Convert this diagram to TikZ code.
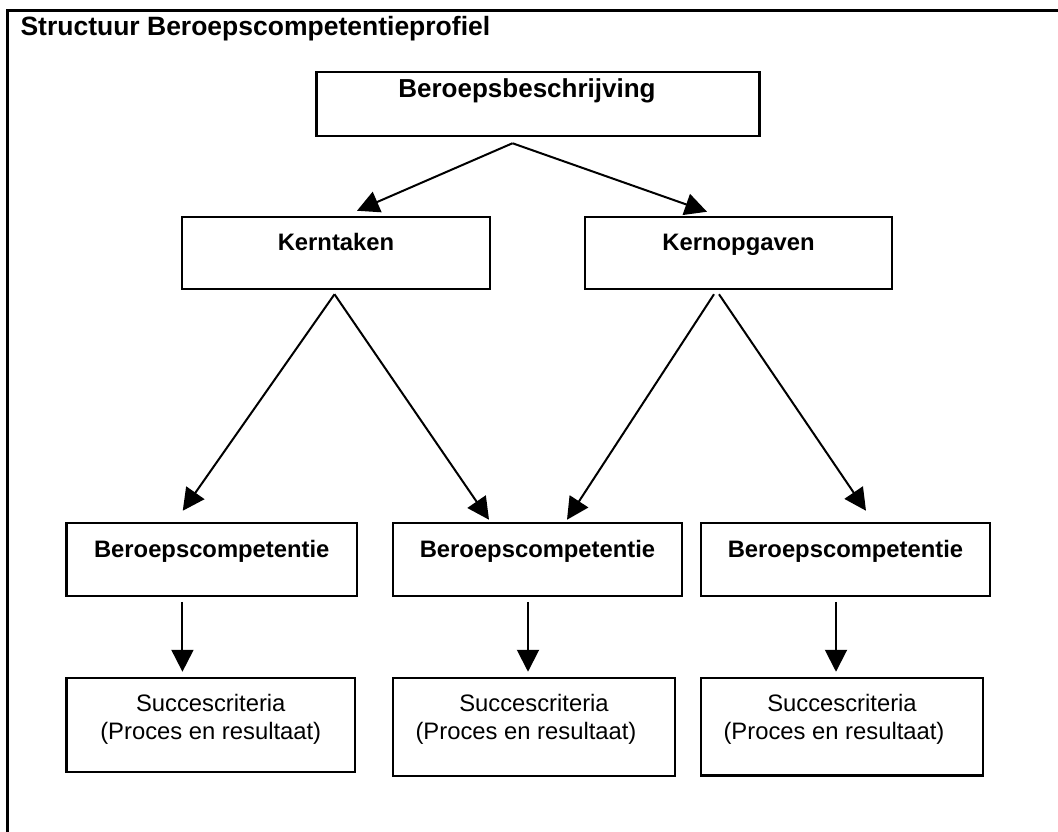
\documentclass[tikz,border=0pt]{standalone}
\usepackage{fontspec}
\setmainfont{Liberation Sans}
\usetikzlibrary{arrows.meta,positioning,calc}

\begin{document}
\begin{tikzpicture}[
    x=1pt, y=-1pt,
    box/.style={rectangle, draw, line width=2.5pt, inner sep=0pt, anchor=base, font=\fontsize{23.8}{28}\selectfont\bfseries},
    succes/.style={rectangle, draw, line width=2.5pt, inner sep=0pt, anchor=base, font=\fontsize{23.8}{28}\selectfont},
    arr/.style={-{Triangle[length=22pt, width=22pt]}, line width=2pt}
]
    \useasboundingbox (0,0) rectangle (1058,832);
    \draw[line width=3pt] (7,832) -- (7,11) -- (1058,11);
    \node[anchor=base west, font=\fontsize{26.5}{30}\selectfont\bfseries] (title) at (17,36) {Structuur Beroepscompetentieprofiel};

    \node[box, font=\fontsize{26}{30}\selectfont\bfseries, minimum width=443pt, text height=25.6pt, text depth=38.4pt] (beschrijving) at (538,97.6) {Beroepsbeschrijving\hspace*{22pt}};
    \node[box, minimum width=308pt, text height=33.5pt, text depth=38.5pt] (kerntaken) at (336,250.5) {Kerntaken};
    \node[box, minimum width=307pt, text height=33.5pt, text depth=38.5pt] (kernopgaven) at (738.5,250.5) {Kernopgaven};

    \node[box, minimum width=290.5pt, text height=34pt, text depth=39pt] (comp1) at (211.75,557) {Beroepscompetentie};
    \node[box, minimum width=289pt, text height=34pt, text depth=39pt] (comp2) at (537.5,557) {Beroepscompetentie};
    \node[box, minimum width=289pt, text height=34pt, text depth=39pt] (comp3) at (845.5,557) {Beroepscompetentie};

    \node[succes, minimum width=288.5pt, text height=33pt, text depth=61pt] (crit1) at (210.75,711) {\begin{tabular}[t]{@{}c@{}}Succescriteria\\(Proces en resultaat)\end{tabular}};
    \node[succes, minimum width=282pt, text height=33pt, text depth=65pt] (crit2) at (534,711) {\begin{tabular}[t]{@{}c@{}}Succescriteria\\(Proces en resultaat)\hspace*{16pt}\end{tabular}};
    \node[succes, minimum width=282pt, text height=33pt, text depth=64.5pt] (crit3) at (842,711) {\begin{tabular}[t]{@{}c@{}}Succescriteria\\(Proces en resultaat)\hspace*{16pt}\end{tabular}};

    % bovenste laag
    \draw[arr] ($(beschrijving.south)+(-25.5,6)$) -- ($(kerntaken.north)+(21,-5)$);
    \draw[arr] ($(beschrijving.south)+(-25.5,6)$) -- ($(kernopgaven.north)+(-31.5,-4)$);

    % naar de competenties
    \draw[arr] ($(kerntaken.south)+(-1.5,4)$) -- ($(comp1.north)+(-29,-11)$);
    \draw[arr] ($(kerntaken.south)+(-1.5,4)$) -- ($(comp2.north)+(-48.5,-2)$);
    \draw[arr] ($(kernopgaven.south)+(-24.5,4)$) -- ($(comp2.north)+(29.5,-2)$);
    \draw[arr] ($(kernopgaven.south)+(-19.5,4)$) -- ($(comp3.north)+(20.5,-11)$);

    % naar de succescriteria
    \draw[arr] ($(comp1.south)+(-29.3,4.5)$) -- ($(crit1.north)+(-28.3,-5)$);
    \draw[arr] ($(comp2.south)+(-9.5,4.5)$) -- ($(crit2.north)+(-6,-5)$);
    \draw[arr] ($(comp3.south)+(-9.5,4.5)$) -- ($(crit3.north)+(-6,-5)$);
\end{tikzpicture}
\end{document}
